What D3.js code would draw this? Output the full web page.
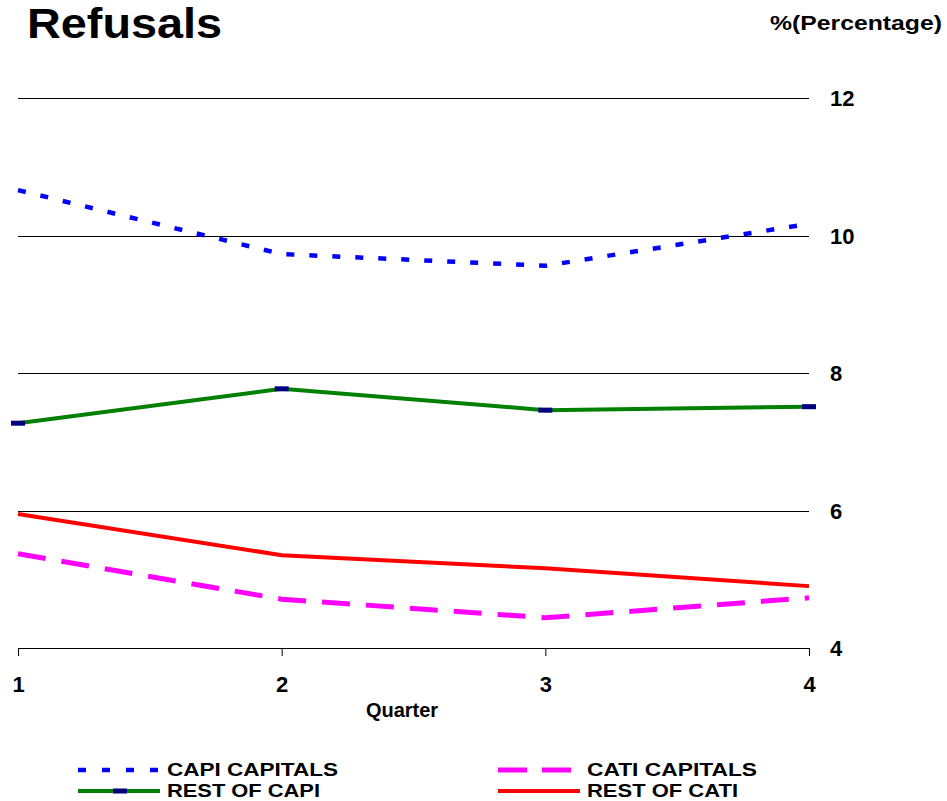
<!DOCTYPE html>
<html>
<head>
<meta charset="utf-8">
<script src="https://cdn.jsdelivr.net/npm/d3@7"></script>
<style>
  body { margin: 0; background: #fff; }
  svg text { font-family: "Liberation Sans", Arial, sans-serif; font-weight: bold; fill: #000; }
</style>
</head>
<body>
<svg id="chart" width="947" height="801"></svg>
<script>
const quarters = [1, 2, 3, 4];
const yTicks = [4, 6, 8, 10, 12];
const capiCapitals = [10.66, 9.73, 9.56, 10.17];
const restOfCapi = [7.27, 7.77, 7.46, 7.51];
const catiCapitals = [5.37, 4.71, 4.44, 4.73];
const restOfCati = [5.95, 5.35, 5.16, 4.90];
const seriesNames = ["CAPI CAPITALS", "CATI CAPITALS", "REST OF CAPI", "REST OF CATI"];

const svg = d3.select("#chart");
const x = d3.scaleLinear().domain([1, 4]).range([18, 809]);
const y = d3.scaleLinear().domain([4, 12]).range([648, 98]);

// Title
svg.append("text").attr("x", 27).attr("y", 38).attr("font-size", 42)
  .attr("textLength", 195).attr("lengthAdjust", "spacingAndGlyphs").text("Refusals");
svg.append("text").attr("x", 770).attr("y", 30).attr("font-size", 20)
  .attr("textLength", 172).attr("lengthAdjust", "spacingAndGlyphs").text("%(Percentage)");

// Gridlines
svg.append("g").selectAll("line").data(yTicks.filter(d => d > 4)).join("line")
  .attr("x1", x(1)).attr("x2", x(4))
  .attr("y1", d => Math.round(y(d)) + 0.5).attr("y2", d => Math.round(y(d)) + 0.5)
  .attr("stroke", "#000").attr("stroke-width", 1);

// Y axis labels (right)
const yAxis = d3.axisRight(y).tickValues(yTicks).tickSize(0).tickPadding(0).tickFormat(d3.format("d"));
const yg = svg.append("g").attr("transform", `translate(830,0)`).call(yAxis);
yg.select(".domain").remove();
yg.selectAll("text").attr("font-size", 22).attr("font-family", "Liberation Sans, Arial, sans-serif")
  .attr("font-weight", "bold").attr("fill", "#000").attr("x", 0).attr("dy", "0.35em");

// X axis
const xAxis = d3.axisBottom(x).tickValues(quarters).tickSize(8).tickPadding(20).tickFormat(d3.format("d"));
const xg = svg.append("g").attr("transform", `translate(0,${y(4)})`).call(xAxis);
xg.select(".domain").attr("stroke", "#000").attr("d", `M${x(1)},0.5H${x(4)}`);
xg.selectAll(".tick line").attr("stroke", "#000");
xg.selectAll("text").attr("font-size", 22).attr("font-family", "Liberation Sans, Arial, sans-serif")
  .attr("font-weight", "bold").attr("fill", "#000");
svg.append("text").attr("x", 402).attr("y", 717).attr("font-size", 20).attr("text-anchor", "middle")
  .text("Quarter");

const line = d3.line().x((d, i) => x(quarters[i])).y(d => y(d));

const styles = {
  "CAPI CAPITALS": { data: capiCapitals, color: "#0000ff", width: 4.5, dash: "8,15" },
  "CATI CAPITALS": { data: catiCapitals, color: "#ff00ff", width: 5, dash: "28,16" },
  "REST OF CAPI": { data: restOfCapi, color: "#008000", width: 4, dash: null, marker: true },
  "REST OF CATI": { data: restOfCati, color: "#ff0000", width: 4, dash: null }
};

const plot = svg.append("g");
["REST OF CATI", "CATI CAPITALS", "REST OF CAPI", "CAPI CAPITALS"].forEach(name => {
  const s = styles[name];
  plot.append("path").attr("d", line(s.data)).attr("fill", "none")
    .attr("stroke", s.color).attr("stroke-width", s.width)
    .attr("stroke-dasharray", s.dash);
  if (s.marker) {
    plot.selectAll(null).data(s.data).join("rect")
      .attr("x", (d, i) => x(quarters[i]) - 7).attr("y", d => y(d) - 2.5)
      .attr("width", 14).attr("height", 5).attr("fill", "#000080");
  }
});

// Legend
const legendPos = {
  "CAPI CAPITALS": [78, 770], "REST OF CAPI": [78, 791],
  "CATI CAPITALS": [498, 770], "REST OF CATI": [498, 791]
};
const textLen = { "CAPI CAPITALS": 171, "REST OF CAPI": 153, "CATI CAPITALS": 170, "REST OF CATI": 151 };
const lg = svg.append("g");
seriesNames.forEach(name => {
  const s = styles[name];
  const [lx, ly] = legendPos[name];
  lg.append("line").attr("x1", lx).attr("x2", lx + 82).attr("y1", ly).attr("y2", ly)
    .attr("stroke", s.color).attr("stroke-width", s.width)
    .attr("stroke-dasharray", name === "CAPI CAPITALS" ? "8,16" : (name === "CATI CAPITALS" ? "29,15" : null));
  if (s.marker) {
    lg.append("rect").attr("x", lx + 35).attr("y", ly - 2.5).attr("width", 14).attr("height", 5).attr("fill", "#000080");
  }
  lg.append("text").attr("x", lx + 89).attr("y", ly + 6).attr("font-size", 19)
    .attr("textLength", textLen[name]).attr("lengthAdjust", "spacingAndGlyphs").text(name);
});
</script>
</body>
</html>
